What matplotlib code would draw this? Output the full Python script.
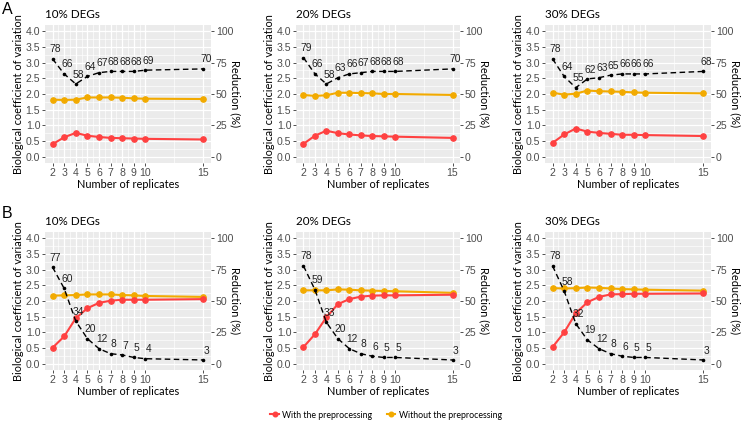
import matplotlib
matplotlib.use("Agg")
import matplotlib.pyplot as plt
from matplotlib.lines import Line2D
import numpy as np

plt.rcParams['font.family'] = ['Liberation Sans', 'DejaVu Sans']

replicates = [2, 3, 4, 5, 6, 7, 8, 9, 10, 15]
x_ticks = [2, 3, 4, 5, 6, 7, 8, 9, 10, 15]
titles = ["10% DEGs", "20% DEGs", "30% DEGs"]

# Row A
a_with = [
    [0.40, 0.62, 0.76, 0.67, 0.63, 0.60, 0.59, 0.58, 0.57, 0.55],
    [0.41, 0.67, 0.83, 0.75, 0.71, 0.68, 0.66, 0.65, 0.64, 0.60],
    [0.44, 0.71, 0.90, 0.80, 0.76, 0.73, 0.70, 0.70, 0.69, 0.66],
]
a_without = [
    [1.82, 1.81, 1.82, 1.89, 1.89, 1.89, 1.88, 1.86, 1.85, 1.84],
    [1.97, 1.94, 1.96, 2.04, 2.04, 2.03, 2.02, 2.00, 2.00, 1.97],
    [2.04, 1.98, 2.01, 2.11, 2.09, 2.08, 2.07, 2.05, 2.04, 2.02],
]
a_reduction = [
    [78, 66, 58, 64, 67, 68, 68, 68, 69, 70],
    [79, 66, 58, 63, 66, 67, 68, 68, 68, 70],
    [78, 64, 55, 62, 63, 65, 66, 66, 66, 68],
]
# Row B
b_with = [
    [0.51, 0.87, 1.45, 1.77, 1.94, 2.01, 2.04, 2.04, 2.04, 2.06],
    [0.53, 0.94, 1.48, 1.90, 2.06, 2.14, 2.17, 2.18, 2.18, 2.20],
    [0.53, 1.00, 1.61, 1.96, 2.13, 2.21, 2.22, 2.23, 2.23, 2.24],
]
b_without = [
    [2.17, 2.18, 2.19, 2.21, 2.21, 2.21, 2.19, 2.18, 2.16, 2.13],
    [2.34, 2.34, 2.34, 2.37, 2.36, 2.34, 2.33, 2.32, 2.31, 2.26],
    [2.41, 2.40, 2.41, 2.43, 2.42, 2.40, 2.38, 2.37, 2.36, 2.33],
]
b_reduction = [
    [77, 60, 34, 20, 12, 8, 7, 5, 4, 3],
    [78, 59, 33, 20, 12, 8, 6, 5, 5, 3],
    [78, 58, 32, 19, 12, 8, 6, 5, 5, 3],
]

RED = "#FF4141"
ORANGE = "#F2AA00"
BG = "#EBEBEB"
TICKC = "#4D4D4D"
TFONT = ['Lato', 'DejaVu Sans']
TICKSIZE = 7.6
TITLESIZE = 7.9

W, H = 743, 422
fig = plt.figure(figsize=(W / 100, H / 100), dpi=100)

col_px = [(45, 211), (296, 460), (545, 711)]
row_px = [(25, 163), (232, 370)]


def px_axes(x0, x1, y0, y1):
    return fig.add_axes([x0 / W, 1 - y1 / H, (x1 - x0) / W, (y1 - y0) / H])


def draw_panel(ax, withv, withoutv, red, title, width_px):
    ax.set_facecolor(BG)
    ax.set_xlim(1.35, 15.65)
    ax.set_ylim(-0.2, 4.2)
    ax.set_xticks(x_ticks)
    ax.set_xticks([2.5, 3.5, 4.5, 5.5, 6.5, 7.5, 8.5, 9.5, 12.5], minor=True)
    ax.set_yticks(np.arange(0, 4.01, 0.5))
    ax.set_yticks(np.arange(0.25, 4.2, 0.5), minor=True)
    ax.set_yticklabels([f"{v:.1f}" for v in np.arange(0, 4.01, 0.5)])
    ax.grid(which='major', color='white', lw=0.9)
    ax.grid(which='minor', color='white', lw=0.45)
    ax.set_axisbelow(True)
    for s in ax.spines.values():
        s.set_visible(False)
    ax.tick_params(axis='both', which='major', length=2.2, width=0.6, color='#333333',
                   labelsize=TICKSIZE, labelcolor=TICKC, pad=1.2)
    ax.tick_params(axis='both', which='minor', length=0)
    ax.plot(replicates, withoutv, color=ORANGE, lw=1.5, marker='o', ms=3.8, zorder=3)
    ax.plot(replicates, withv, color=RED, lw=1.5, marker='o', ms=3.8, zorder=3)
    redu = [r / 25 for r in red]
    ax.plot(replicates, redu, color='black', lw=1.0, ls=(0, (4, 2.5)), marker='o', ms=1.6, zorder=4)
    for xv, yv, r in zip(replicates, redu, red):
        ax.annotate(str(r), (xv, yv), xytext=(2.0, 3.2), textcoords='offset points',
                    ha='center', va='bottom', fontsize=7.4, color='#222222', zorder=5)
    ax.set_xlabel("Number of replicates", fontsize=TITLESIZE, labelpad=1.0, family=TFONT)
    ax.set_ylabel("Biological coefficient of variation", fontsize=TITLESIZE, labelpad=1.0, family=TFONT)
    sec = ax.secondary_yaxis('right', functions=(lambda v: v * 25, lambda v: v / 25))
    sec.set_yticks([0, 25, 50, 75, 100])
    sec.tick_params(length=2.2, width=0.6, color='#333333', labelsize=TICKSIZE, labelcolor=TICKC, pad=1.2)
    for s in sec.spines.values():
        s.set_visible(False)
    ax.text(1 + 24.5 / width_px, 0.5, "Reduction (%)", transform=ax.transAxes, rotation=-90,
            ha='center', va='center', fontsize=TITLESIZE, family=TFONT)
    ax.set_title(title, loc='left', fontsize=8.4, pad=5, x=0.0, family=TFONT)


rows = [(a_with, a_without, a_reduction), (b_with, b_without, b_reduction)]
for ri, (wv, wov, rv) in enumerate(rows):
    for ci in range(3):
        x0, x1 = col_px[ci]
        y0, y1 = row_px[ri]
        ax = px_axes(x0, x1, y0, y1)
        draw_panel(ax, wv[ci], wov[ci], rv[ci], titles[ci], x1 - x0)

fig.text(2 / W, 1 - 9 / H, "A", fontsize=11.5, va='center', ha='left')
fig.text(2 / W, 1 - 213 / H, "B", fontsize=11.5, va='center', ha='left')

handles = [
    Line2D([0], [0], color=RED, lw=1.5, marker='o', ms=3.3, label="With the preprocessing"),
    Line2D([0], [0], color=ORANGE, lw=1.5, marker='o', ms=3.3, label="Without the preprocessing"),
]
leg = fig.legend(handles=handles, loc='center', bbox_to_anchor=(386 / W, 1 - 415 / H), ncol=2,
                 frameon=False, prop={'family': TFONT, 'size': 6.3}, handlelength=1.0,
                 columnspacing=1.6, handletextpad=0.4)

fig.savefig("out.png", dpi=100)
